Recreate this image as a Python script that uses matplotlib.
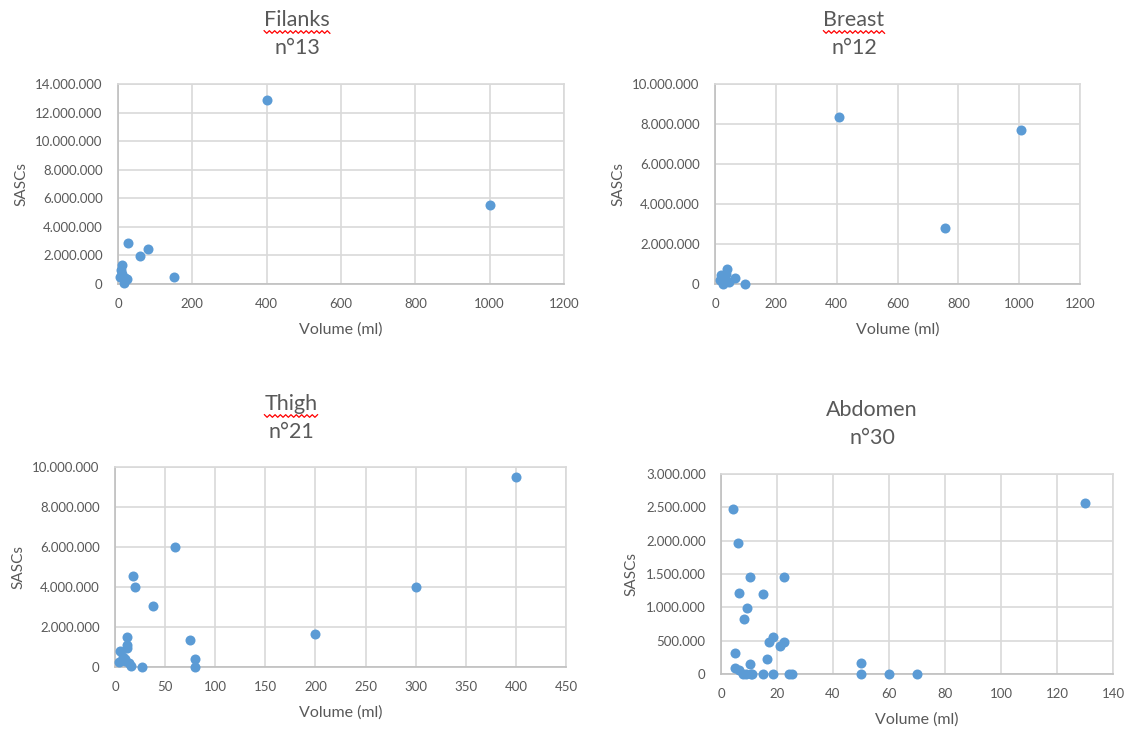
import matplotlib
matplotlib.use("Agg")
import matplotlib.pyplot as plt
from matplotlib.ticker import FuncFormatter, MultipleLocator
from matplotlib.lines import Line2D
import numpy as np

plt.rcParams['font.family'] = ['Lato', 'DejaVu Sans']

# ---- data ----
filanks_x = [400, 1000, 27, 80, 60, 150, 10, 8, 5, 20, 15, 12, 25]
filanks_y = [12900000, 5530000, 2870000, 2450000, 1960000, 490000, 1330000, 1000000, 500000,
             400000, 50000, 700000, 350000]

breast_x = [408, 1006, 755, 100, 20, 40, 65, 30, 45, 25, 35, 15]
breast_y = [8350000, 7700000, 2800000, 0, 450000, 750000, 300000, 300000, 100000, 0, 500000, 200000]

thigh_x = [400, 60, 18, 20, 38, 75, 80, 80, 200, 300, 12, 12, 12, 5, 8, 10, 4, 14, 16, 27, 10]
thigh_y = [9500000, 6000000, 4550000, 4000000, 3050000, 1350000, 400000, 0, 1650000, 4000000,
           1500000, 1100000, 950000, 800000, 500000, 400000, 250000, 200000, 30000, 0, 300000]

abd_x = [4.2, 6.2, 10.4, 22.5, 6.4, 15.1, 9.2, 8.3, 18.5, 17.1, 22.6, 21.1, 5.0, 16.5, 10.4, 5.0, 6.5,
         8.0, 10.6, 15.1, 18.5, 24.3, 25.2, 50, 50, 60, 70, 130, 9, 11]
abd_y = [2480000, 1970000, 1460000, 1460000, 1210000, 1200000, 985000, 820000, 560000, 475000,
         485000, 420000, 310000, 220000, 145000, 85000, 55000,
         0, 0, 0, 0, 0, 0, 165000, 0, 0, 0, 2560000, 0, 0]

titles = [("Filanks", "n°13"), ("Breast", "n°12"), ("Thigh", "n°21"), ("Abdomen", "n°30")]
xlims = [(0, 1200, 200), (0, 1200, 200), (0, 450, 50), (0, 140, 20)]
ylims = [(0, 14000000, 2000000), (0, 10000000, 2000000), (0, 10000000, 2000000), (0, 3000000, 500000)]
spellcheck = [True, True, True, False]

W, H = 1132, 731
# plot areas in pixels: left, right, top, bottom
areas = [(118, 564, 84, 284), (715, 1080, 84, 284), (115, 566, 467, 667), (721, 1113, 474, 674)]
title_pos = [(297, 20, 48), (854, 20, 48), (291, 404, 432), (872, 410, 438)]

fig = plt.figure(figsize=(W / 100, H / 100), dpi=100)
TXT = "#595959"
GRID = "#d9d9d9"
AX = "#bfbfbf"
BLUE = "#5b9bd5"

def fmt(v, pos):
    s = f"{int(round(v)):,}".replace(",", ".")
    return s

datasets = [(filanks_x, filanks_y), (breast_x, breast_y), (thigh_x, thigh_y), (abd_x, abd_y)]

for i, (xs, ys) in enumerate(datasets):
    l, r, t, b = areas[i]
    ax = fig.add_axes([l / W, 1 - b / H, (r - l) / W, (b - t) / H])
    ax.scatter(xs, ys, s=52, color=BLUE, zorder=3, clip_on=False, linewidths=0)
    x0, x1, xs_ = xlims[i]
    y0, y1, ys_ = ylims[i]
    ax.set_xlim(x0, x1)
    ax.set_ylim(y0, y1)
    ax.xaxis.set_major_locator(MultipleLocator(xs_))
    ax.yaxis.set_major_locator(MultipleLocator(ys_))
    ax.yaxis.set_major_formatter(FuncFormatter(fmt))
    ax.grid(True, color=GRID, linewidth=1.2, zorder=0)
    ax.set_axisbelow(True)
    for side in ["top", "right"]:
        ax.spines[side].set_color(GRID)
        ax.spines[side].set_linewidth(1.2)
    for side in ["left", "bottom"]:
        ax.spines[side].set_color(AX)
        ax.spines[side].set_linewidth(1.2)
    ax.tick_params(length=0, labelsize=9.5, labelcolor=TXT)
    ax.tick_params(axis="x", pad=10)
    ax.tick_params(axis="y", pad=11)
    ax.set_xlabel("Volume (ml)", fontsize=11.5, color=TXT, labelpad=9)
    ax.set_ylabel("SASCs", fontsize=11, color=TXT, labelpad=5)

    cx, ty1, ty2 = title_pos[i]
    t1, t2 = titles[i]
    txt1 = fig.text(cx / W, 1 - ty1 / H, t1, ha="center", va="center", fontsize=15.5, color=TXT)
    fig.text(cx / W, 1 - ty2 / H, t2, ha="center", va="center", fontsize=15.5, color=TXT)
    if spellcheck[i]:
        fig.canvas.draw()
        bb = txt1.get_window_extent()
        n = int((bb.x1 - bb.x0) / 2.5)
        xw = np.linspace(bb.x0, bb.x1, n)
        yw = (H - (ty1 + 12)) + 1.3 * np.where(np.arange(n) % 2 == 0, 1, -1)
        fig.add_artist(Line2D(xw / W, yw / H, color="red", linewidth=0.9, transform=fig.transFigure))

fig.savefig("out.png", dpi=100)
